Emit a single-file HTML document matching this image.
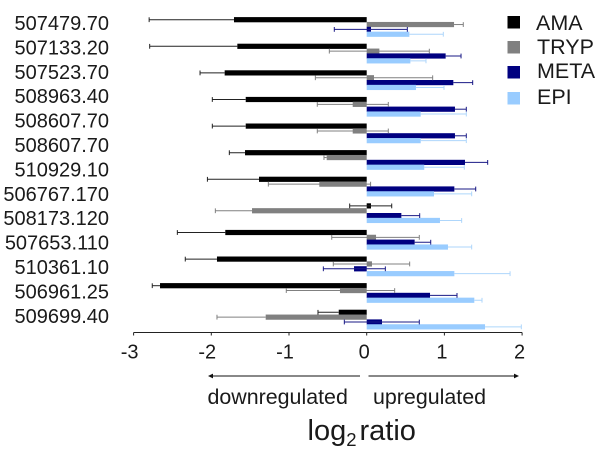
<!DOCTYPE html>
<html>
<head>
<meta charset="utf-8">
<title>log2 ratio chart</title>
<style>
html,body{margin:0;padding:0;background:#fff;width:600px;height:452px;overflow:hidden}
svg{display:block}
text{font-family:"Liberation Sans",Arial,sans-serif;fill:#1a1a1a}
</style>
</head>
<body>
<svg id="chart" width="600" height="452" viewBox="0 0 600 452" xmlns="http://www.w3.org/2000/svg">
<g id="bars"></g>
<g id="axis"></g>
<g id="labels"></g>
<g>
<g><rect x="507.5" y="16" width="12.5" height="12.5" fill="#000"/><text x="536" y="30" font-size="21.5">AMA</text></g>
<g><rect x="507.5" y="41" width="12.5" height="12.5" fill="#808080"/><text x="537" y="54" font-size="21.5">TRYP</text></g>
<g><rect x="507.5" y="66" width="12.5" height="12.5" fill="#000080"/><text x="537" y="78" font-size="21.5">META</text></g>
<g><rect x="507.5" y="92" width="12.5" height="12.5" fill="#99ccff"/><text x="537" y="104" font-size="21.5">EPI</text></g>
</g>
<g>
<line x1="210" y1="376" x2="360" y2="376" stroke="#111" stroke-width="1"/>
<polygon points="208,376 213,373.6 213,378.4" fill="#111"/>
<text x="207.5" y="404" font-size="21.4">downregulated</text>
</g>
<g>
<line x1="368.5" y1="376" x2="516" y2="376" stroke="#111" stroke-width="1"/>
<polygon points="519,376 514,373.6 514,378.4" fill="#111"/>
<text x="373" y="404" font-size="21.4">upregulated</text>
</g>
<text x="307.5" y="440" font-size="29">log<tspan font-size="18.5" dy="6">2</tspan><tspan dy="-6" dx="3">ratio</tspan></text>
</svg>
<script>
// Category labels printed down the left side
const categoryLabels = ["507479.70","507133.20","507523.70","508963.40","508607.70","508607.70","510929.10","506767.170","508173.120","507653.110","510361.10","506961.25","509699.40"];
const xTicks = [-3,-2,-1,0,1,2];

// Series values, one per bar group
const amaValues  = [-1.708,-1.665,-1.828,-1.557,-1.557,-1.566,-1.386,0.055,-1.82,-1.927,-2.66,-0.36];
const amaLow     = [-2.8,-2.793,-2.145,-1.987,-1.987,-1.768,-2.05,-0.219,-2.437,-2.335,-2.76,-0.627];
const amaHigh    = [null,null,null,null,null,null,null,0.322,null,null,null,null];

const trypValues = [1.124,0.163,0.094,-0.18,-0.18,-0.515,-0.61,-1.476,0.12,0.068,-0.344,-1.3];
const trypLow    = [null,-0.481,-0.661,-0.636,-0.636,-0.55,-1.266,-1.948,-0.45,-0.43,-1.035,-1.927];
const trypHigh   = [1.243,0.806,0.849,0.278,0.278,null,0.05,null,0.677,0.553,0.36,null];

const metaValues = [0.055,1.016,1.115,1.136,1.136,1.265,1.128,0.446,0.617,-0.163,0.815,0.197];
const metaLow    = [-0.417,null,null,null,null,null,null,null,null,-0.558,null,-0.288];
const metaHigh   = [0.523,1.214,1.364,1.282,1.282,1.557,1.403,0.682,0.824,0.24,1.162,0.677];

const epiValues  = [0.549,0.562,0.634,0.695,0.695,0.741,0.866,0.943,1.046,1.128,1.385,1.523];
const epiHigh    = [0.986,0.763,0.995,1.282,1.282,1.256,1.351,1.222,1.351,1.845,1.484,1.99];
const epiLow     = [null,null,null,null,null,null,null,null,null,null,null,null];

const SVGNS = "http://www.w3.org/2000/svg";
const xScale = v => 366.7 + v * 77.7;
const groupY = i => 19.7 + i * 26.6;
const labelY = i => 30 + i * 24.4;

function mk(parent, tag, attrs, text) {
  const el = document.createElementNS(SVGNS, tag);
  for (const k in attrs) el.setAttribute(k, attrs[k]);
  if (text !== undefined) el.textContent = text;
  parent.appendChild(el);
  return el;
}

const seriesList = [
  {key:"ama",  values:amaValues,  low:amaLow,  high:amaHigh,  fill:"#000000", line:"#222222", off:0},
  {key:"tryp", values:trypValues, low:trypLow, high:trypHigh, fill:"#808080", line:"#808080", off:4.85},
  {key:"meta", values:metaValues, low:metaLow, high:metaHigh, fill:"#000080", line:"#1a1a86", off:9.7},
  {key:"epi",  values:epiValues,  low:epiLow,  high:epiHigh,  fill:"#99ccff", line:"#aed6fb", off:14.55}
];

const barsG = document.getElementById("bars");
seriesList.forEach(s => {
  s.values.forEach((v, i) => {
    const cy = groupY(i) + s.off;
    const x0 = xScale(0), x1 = xScale(v);
    const bar = mk(barsG, "rect", {x:Math.min(x0,x1), y:cy-2.6, width:Math.abs(x1-x0), height:5.2, fill:s.fill});
    
    
  });
});
seriesList.forEach(s => {
  s.values.forEach((v, i) => {
    const cy = groupY(i) + s.off;
    const lo = s.low[i] === null ? v : s.low[i];
    const hi = s.high[i] === null ? v : s.high[i];
    const err = mk(barsG, "line", {x1:xScale(lo), x2:xScale(hi), y1:cy, y2:cy, stroke:s.line, "stroke-width":1});
    
    
    [s.low[i], s.high[i]].forEach(e => {
      if (e === null) return;
      const cap = mk(barsG, "line", {x1:xScale(e), x2:xScale(e), y1:cy-2.4, y2:cy+2.4, stroke:s.line, "stroke-width":1});
      
      
    });
  });
});

const axisG = document.getElementById("axis");
const axisLine = mk(axisG, "line", {x1:xScale(-3), x2:xScale(2), y1:332.5, y2:332.5, stroke:"#222", "stroke-width":1});


xTicks.forEach(t => {
  const tick = mk(axisG, "line", {x1:xScale(t), x2:xScale(t), y1:332.5, y2:335.5, stroke:"#222", "stroke-width":1});
  
  
  const lbl = mk(axisG, "text", {x:xScale(t) - (t < 0 ? 4 : 2.5), y:358.5, "font-size":20, "text-anchor":"middle"}, String(t));
  
  
});

const labelsG = document.getElementById("labels");
categoryLabels.forEach((c, i) => {
  const t = mk(labelsG, "text", {x:109, y:labelY(i), "font-size":20, "text-anchor":"end"}, c);
  
  
});
</script>
</body>
</html>
